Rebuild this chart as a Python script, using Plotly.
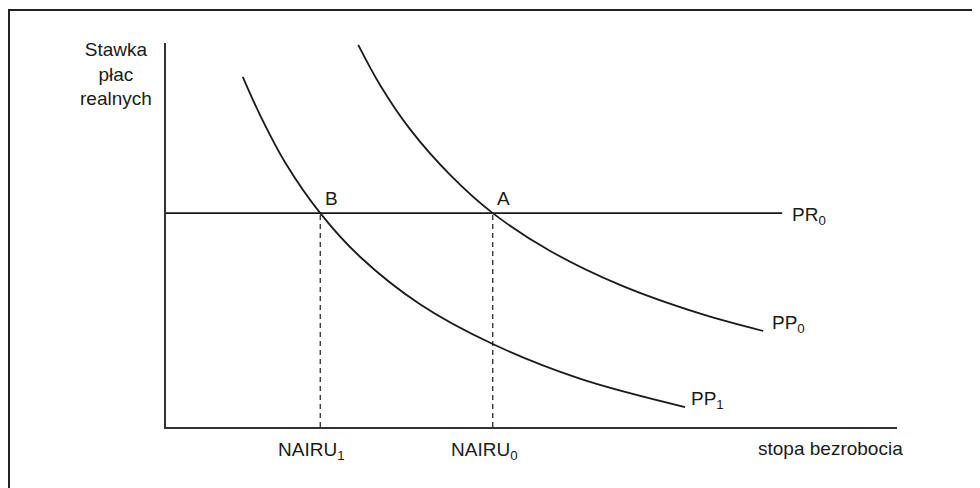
import plotly.graph_objects as go

pp0_x = [26.3, 29.3, 33.4, 38.9, 44.7, 52.5, 62.1, 73.1, 81.7]
pp0_y = [99.5, 89.0, 77.5, 65.6, 55.7, 45.9, 37.0, 29.5, 25.0]

pp1_x = [10.5, 12.9, 16.3, 21.1, 26.5, 34.8, 44.7, 56.6, 71.0]
pp1_y = [91.2, 81.1, 68.9, 55.7, 44.4, 31.9, 21.6, 12.6, 5.2]

pr0_x = [0.0, 84.3]
pr0_y = [55.7, 55.7]

nairu_labels = ["NAIRU<sub>1</sub>", "NAIRU<sub>0</sub>"]
nairu_x = [21.1, 44.7]
point_labels = ["B", "A"]

curve_labels = ["PR<sub>0</sub>", "PP<sub>0</sub>", "PP<sub>1</sub>"]
x_title = "stopa bezrobocia"
y_title = "Stawka<br>płac<br>realnych"

FONT = "Liberation Sans, Arial, Helvetica, sans-serif"
INK = "#1a1a1a"
X_MAX = 100.0
Y_MAX = 100.0

fig = go.Figure()

fig.add_trace(go.Scatter(x=pp0_x, y=pp0_y, mode="lines", line=dict(color=INK, width=1.8, shape="spline"),
                         hoverinfo="skip", showlegend=False))
fig.add_trace(go.Scatter(x=pp1_x, y=pp1_y, mode="lines", line=dict(color=INK, width=1.8, shape="spline"),
                         hoverinfo="skip", showlegend=False))
fig.add_trace(go.Scatter(x=pr0_x, y=pr0_y, mode="lines", line=dict(color=INK, width=1.6),
                         hoverinfo="skip", showlegend=False))
for nx in nairu_x:
    fig.add_trace(go.Scatter(x=[nx, nx], y=[0, pr0_y[0]], mode="lines",
                             line=dict(color=INK, width=1.2, dash="5px,4px"),
                             hoverinfo="skip", showlegend=False))

ann = []
fs = 19


def P(xv, yv):
    return xv / X_MAX, yv / Y_MAX


# point labels A, B
for lab, nx in zip(point_labels, nairu_x):
    px, py = P(nx + 1.5, pr0_y[0] + 3.9)
    ann.append(dict(x=px, y=py, text=lab, xanchor="center", yanchor="middle"))
# curve labels
for lab, (cx, cy) in zip(curve_labels, [(pr0_x[1] + 1.0, pr0_y[0] - 0.8),
                                         (pp0_x[-1] + 0.9, pp0_y[-1] + 1.8),
                                         (pp1_x[-1] + 0.5, pp1_y[-1] + 1.8)]):
    px, py = P(cx, cy)
    ann.append(dict(x=px, y=py, text=lab, xanchor="left", yanchor="middle"))
# NAIRU labels under axis
for lab, nx in zip(nairu_labels, nairu_x):
    px, py = P(nx - 6.0, -6.2)
    ann.append(dict(x=px, y=py, text=lab, xanchor="left", yanchor="middle"))
# axis titles
px, py = P(101.1, -5.6)
ann.append(dict(x=px, y=py, text=x_title, xanchor="right", yanchor="middle"))
px, py = P(-6.8, 92.0)
ann.append(dict(x=px, y=py, text=y_title, xanchor="center", yanchor="middle", align="center"))

for a in ann:
    a.update(xref="paper", yref="paper", showarrow=False, font=dict(family=FONT, size=fs, color=INK))

fig.update_layout(
    width=972, height=480,
    margin=dict(l=158, r=83, t=35, b=61, pad=0),
    paper_bgcolor="white", plot_bgcolor="white",
    annotations=ann,
    xaxis=dict(range=[0, X_MAX], showgrid=False, zeroline=False, showticklabels=False, ticks="",
               showline=True, linecolor="#333", linewidth=2, fixedrange=True),
    yaxis=dict(range=[0, Y_MAX], showgrid=False, zeroline=False, showticklabels=False, ticks="",
               showline=True, linecolor="#333", linewidth=2, fixedrange=True),
    shapes=[dict(type="rect", xref="paper", yref="paper", x0=-0.2148, x1=1.25, y0=-0.35, y1=1.0859,
                 line=dict(color="#222", width=2), layer="above")],
)

fig.write_html("out.html", config={"displayModeBar": False})
